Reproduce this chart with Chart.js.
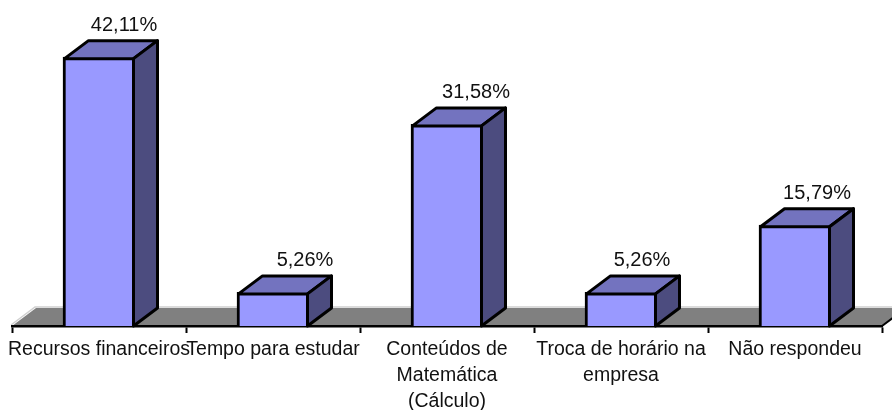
<!DOCTYPE html>
<html>
<head>
<meta charset="utf-8">
<style>
  html, body { margin: 0; padding: 0; background: #fff; }
  #wrap { width: 892px; height: 410px; }
</style>
<script src="https://cdn.jsdelivr.net/npm/chart.js@4/dist/chart.umd.min.js"></script>
</head>
<body>
<div id="wrap"><canvas id="chart"></canvas></div>
<script>
const categories = [
  'Recursos financeiros',
  'Tempo para estudar',
  ['Conteúdos de', 'Matemática', '(Cálculo)'],
  ['Troca de horário na', 'empresa'],
  'Não respondeu'
];
const percentages = [42.11, 5.26, 31.58, 5.26, 15.79];

const depthX = 24;
const depthY = -18;
// The value labels sit a little unevenly to the right of each bar
const labelShift = [25, 32, 29, 21, 22];
const fontName = '"Liberation Sans", Arial, sans-serif';

function face(ctx, points, fill) {
  ctx.beginPath();
  points.forEach((p, i) => i ? ctx.lineTo(p[0], p[1]) : ctx.moveTo(p[0], p[1]));
  ctx.closePath();
  ctx.fillStyle = fill;
  ctx.fill();
  ctx.stroke();
}

// Floor of the 3D plot, behind the axis line
const floorPlugin = {
  id: 'floor',
  beforeDraw(chart) {
    const { ctx, chartArea: { left, right, bottom } } = chart;
    ctx.save();
    ctx.beginPath();
    ctx.moveTo(left, bottom);
    ctx.lineTo(left + depthX, bottom + depthY);
    ctx.lineTo(right + depthX, bottom + depthY);
    ctx.lineTo(right, bottom);
    ctx.closePath();
    ctx.fillStyle = '#808080';
    ctx.fill();
    ctx.strokeStyle = '#d0d0d0';
    ctx.lineWidth = 1.5;
    ctx.beginPath();
    ctx.moveTo(left - 1, bottom - 1);
    ctx.lineTo(left + depthX - 1, bottom + depthY - 1);
    ctx.lineTo(right + depthX, bottom + depthY - 1);
    ctx.stroke();
    ctx.strokeStyle = '#000';
    ctx.lineWidth = 2;
    ctx.beginPath();
    ctx.moveTo(right, bottom);
    ctx.lineTo(right + depthX, bottom + depthY);
    ctx.stroke();
    ctx.restore();
  }
};

// Side and top faces of each bar, plus the value labels
const boxPlugin = {
  id: 'box',
  afterDatasetsDraw(chart) {
    const { ctx } = chart;
    const meta = chart.getDatasetMeta(0);
    ctx.save();
    ctx.strokeStyle = '#000';
    ctx.lineWidth = 3;
    ctx.lineJoin = 'round';
    meta.data.forEach((bar, i) => {
      const left = bar.x - bar.width / 2 + 1.5;
      const right = bar.x + bar.width / 2 - 1.5;
      const top = bar.y + 1.5;
      const base = bar.base;
      face(ctx, [[left, top], [left + depthX, top + depthY], [right + depthX, top + depthY], [right, top]], '#7373bf');
      face(ctx, [[right, top], [right + depthX, top + depthY], [right + depthX, base + depthY], [right, base]], '#4c4c7f');
      ctx.fillStyle = '#111';
      ctx.font = '20px ' + fontName;
      ctx.textAlign = 'center';
      ctx.textBaseline = 'alphabetic';
      ctx.fillText(percentages[i].toFixed(2).replace('.', ',') + '%', bar.x + labelShift[i], top + depthY - 10);
    });
    ctx.restore();
  }
};

new Chart(document.getElementById('chart'), {
  type: 'bar',
  data: {
    labels: categories,
    datasets: [{
      data: percentages,
      backgroundColor: '#9999ff',
      borderColor: '#000',
      borderWidth: 3,
      barThickness: 72
    }]
  },
  options: {
    responsive: true,
    maintainAspectRatio: false,
    animation: false,
    layout: { padding: { left: 12, right: 10, top: 6.8, bottom: 0 } },
    plugins: {
      legend: { display: false },
      tooltip: { enabled: false }
    },
    scales: {
      x: {
        afterFit: scale => { scale.height = 84; },
        border: { color: '#000', width: 2.5 },
        grid: { drawOnChartArea: false, color: '#000', tickColor: '#000', tickLength: 7, tickWidth: 2 },
        ticks: {
          autoSkip: false,
          maxRotation: 0,
          padding: 4,
          color: '#111',
          font: { family: fontName, size: 19.5, lineHeight: 1.33 }
        }
      },
      y: { display: false, min: 0, max: 50 }
    }
  },
  plugins: [floorPlugin, boxPlugin]
});
</script>
</body>
</html>
